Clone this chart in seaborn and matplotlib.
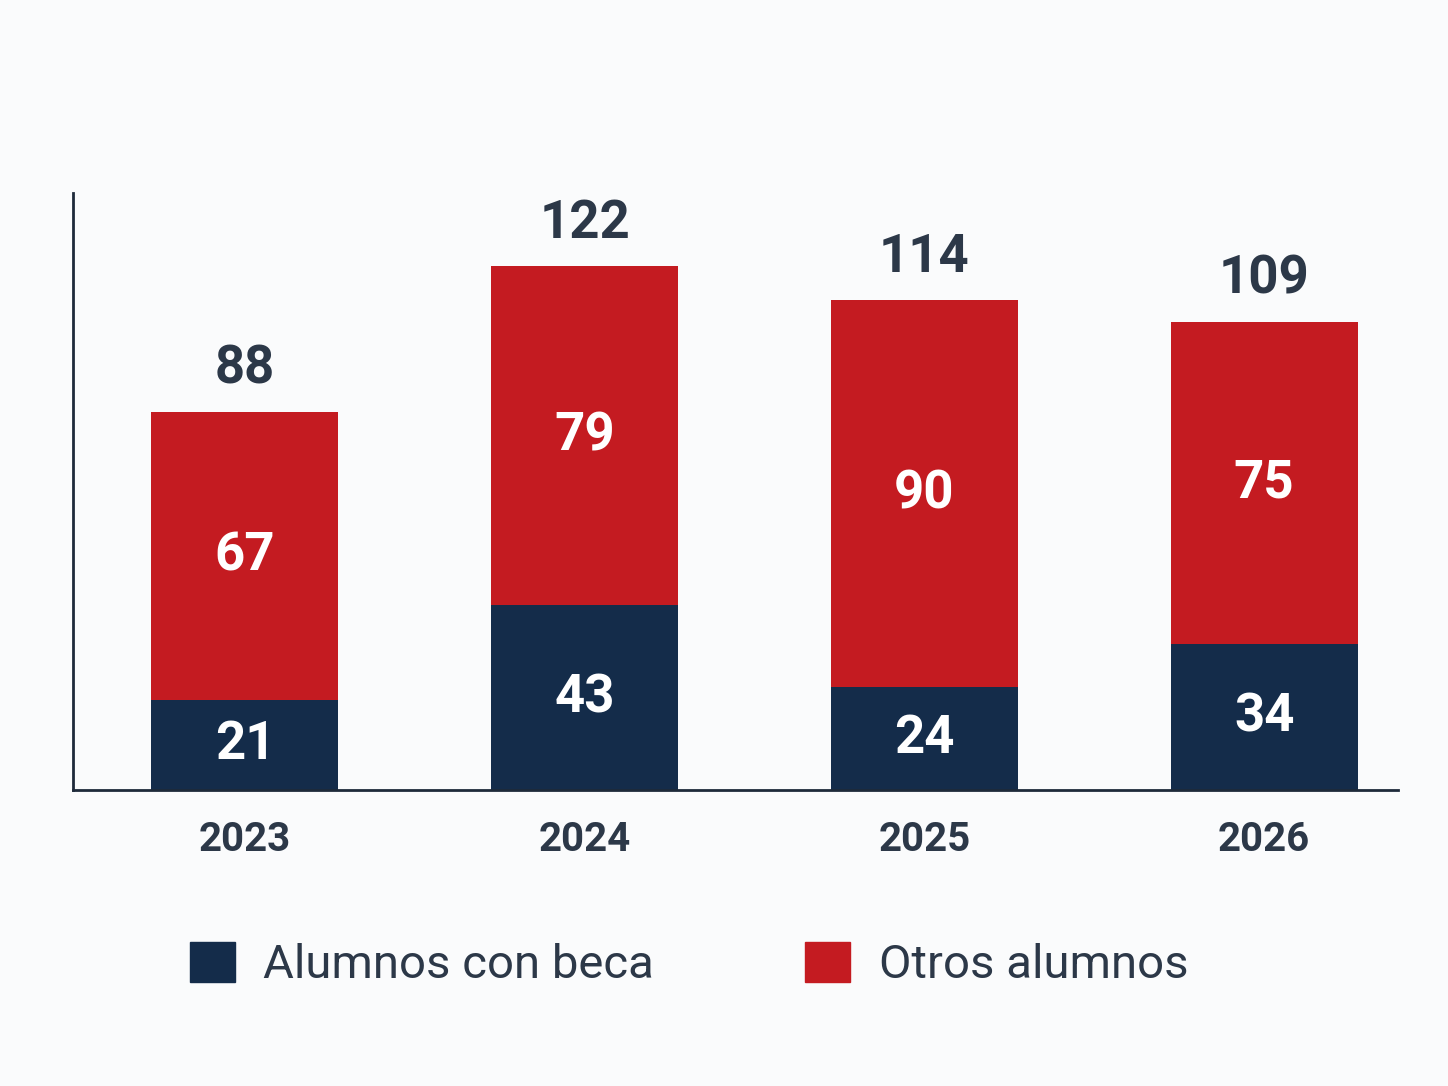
import matplotlib
matplotlib.use("Agg")
import matplotlib.pyplot as plt
import matplotlib.patches as mpatches
import seaborn as sns
import pandas as pd

years = ["2023", "2024", "2025", "2026"]
becados = [21, 43, 24, 34]
otros = [67, 79, 90, 75]
totales = [b + o for b, o in zip(becados, otros)]

navy = "#142c4a"
red = "#c41b21"
text_dark = "#2c3848"
bg = "#fafbfc"

sns.set_theme(style="white")
plt.rcParams["font.family"] = ["Roboto", "DejaVu Sans"]

df = pd.DataFrame({"year": years, "becados": becados, "otros": otros, "total": totales})

fig = plt.figure(figsize=(14.48, 10.86), dpi=100, facecolor=bg)
ax = fig.add_axes([0.0504, 0.2726, 0.9151, 0.5497])
ax.set_facecolor(bg)

# barra total en rojo y la parte becada encima en azul
sns.barplot(data=df, x="year", y="total", color=red, width=0.55, saturation=1,
            linewidth=0, ax=ax)
sns.barplot(data=df, x="year", y="becados", color=navy, width=0.55, saturation=1,
            linewidth=0, ax=ax)

for i, (b, o, t) in enumerate(zip(becados, otros, totales)):
    ax.text(i, b / 2, str(b), ha="center", va="center", color="white",
            fontsize=38, fontweight="bold")
    ax.text(i, b + o / 2, str(o), ha="center", va="center", color="white",
            fontsize=38, fontweight="bold")
    ax.text(i, t + 4, str(t), ha="center", va="bottom", color=text_dark,
            fontsize=38, fontweight="bold")

ax.set_xlim(-0.506, 3.394)
ax.set_ylim(0, 139)
ax.set_xlabel("")
ax.set_ylabel("")
ax.set_yticks([])
ax.tick_params(axis="x", length=0, pad=22, labelsize=29, labelcolor=text_dark)
for lab in ax.get_xticklabels():
    lab.set_fontweight("bold")
for s in ["top", "right"]:
    ax.spines[s].set_visible(False)
for s in ["left", "bottom"]:
    ax.spines[s].set_color("#1e2a3a")
    ax.spines[s].set_linewidth(2)

handles = [mpatches.Patch(color=navy, label="Alumnos con beca"),
           mpatches.Patch(color=red, label="Otros alumnos")]
fig.legend(handles=handles, loc="center", bbox_to_anchor=(0.476, 0.112), ncol=2,
           frameon=False, fontsize=34, handlelength=0.95, handleheight=0.95,
           handletextpad=0.6, columnspacing=3.2, labelcolor=text_dark)

fig.savefig("out.png", dpi=100, facecolor=bg)
